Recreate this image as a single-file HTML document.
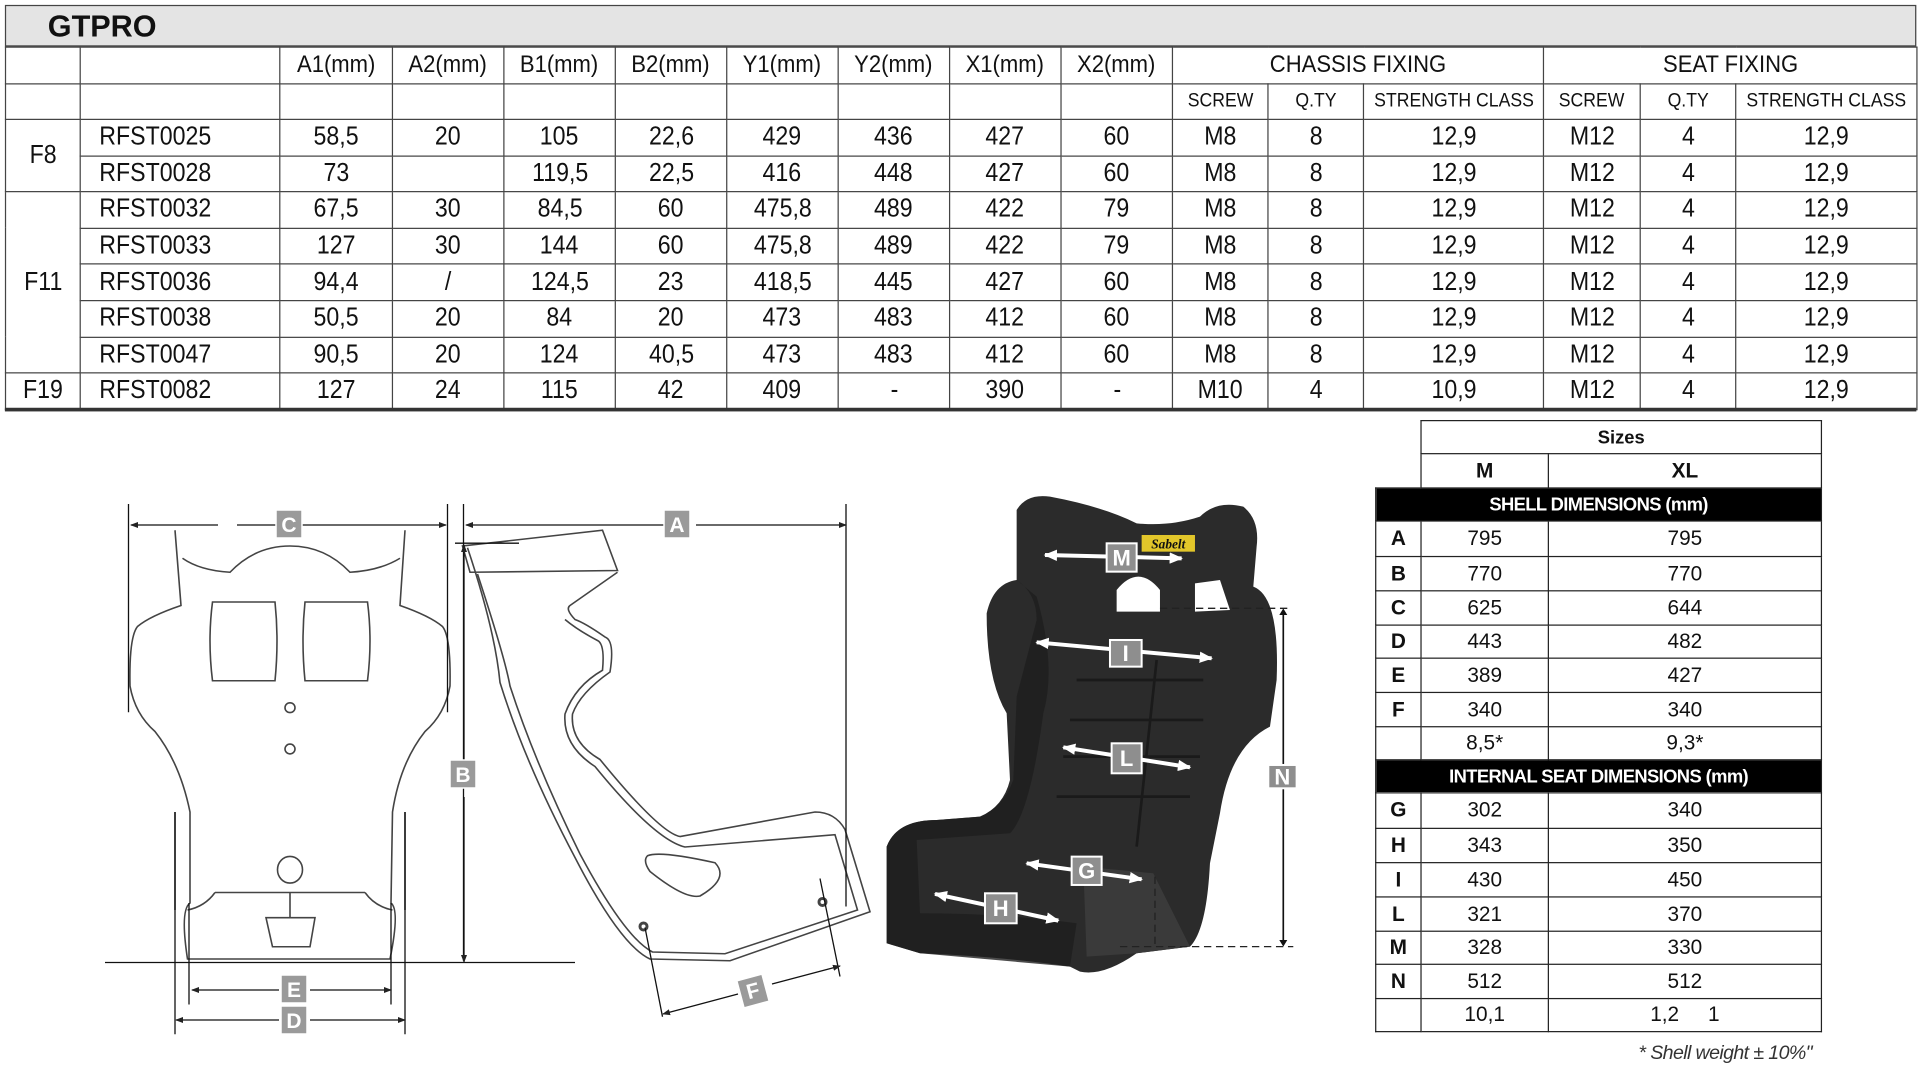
<!DOCTYPE html>
<html><head><meta charset="utf-8">
<style>
html,body{margin:0;padding:0;background:#fff;width:1920px;height:1080px;overflow:hidden}
#wrap{position:absolute;left:0;top:0;width:1568px;height:882px;transform:scale(1.22449);transform-origin:0 0;font-family:"Liberation Sans Narrow","Liberation Sans",sans-serif;color:#111}
.t{position:absolute;border-collapse:collapse;table-layout:fixed}
.t td{border:1.4px solid #444;padding:0;text-align:center;white-space:nowrap;overflow:hidden}
.c{display:inline-block;transform:scaleX(.9)}
#top{left:4px;top:38px;width:1561px;font-size:21px}
#top tr{height:29.6px}
#top .h1{height:30px;font-size:20px}
#top .h2{height:29px;font-size:16px}
#top td.l{text-align:left;padding-left:10px}
#title{position:absolute;left:4px;top:4px;width:1561px;height:34px;background:#e4e4e4;border:1.4px solid #444;box-sizing:border-box}
#title span{position:absolute;left:34px;top:3px;font:bold 25px "Liberation Sans Narrow","Liberation Sans",sans-serif}
#botline{position:absolute;left:4px;top:333px;width:1561px;height:3px;background:#333}
#sz{left:1123px;top:343px;width:364px;font-family:"Liberation Sans",sans-serif;font-size:17px}
#sz td{border:1.3px solid #222}
#sz .b{font-weight:bold}
#sz .blk{background:#000;color:#fff;font-weight:bold;font-size:15px;letter-spacing:-.5px}
#sz td.n{border:none}
#note{position:absolute;left:1338px;top:852px;font:italic 16px "Liberation Sans",sans-serif;color:#333;letter-spacing:-.5px}
svg{position:absolute;left:0;top:0}
</style></head><body>
<div id="wrap">
<div id="title"><span>GTPRO</span></div>
<table class="t" id="top">
<colgroup><col style="width:61px"><col style="width:163px"><col style="width:92px"><col style="width:91px"><col style="width:91px"><col style="width:91px"><col style="width:91px"><col style="width:91px"><col style="width:91px"><col style="width:91px"><col style="width:78px"><col style="width:78px"><col style="width:147px"><col style="width:79px"><col style="width:78px"><col style="width:148px"></colgroup>
<tr class="h1"><td></td><td></td><td><span class="c">A1(mm)</span></td><td><span class="c">A2(mm)</span></td><td><span class="c">B1(mm)</span></td><td><span class="c">B2(mm)</span></td><td><span class="c">Y1(mm)</span></td><td><span class="c">Y2(mm)</span></td><td><span class="c">X1(mm)</span></td><td><span class="c">X2(mm)</span></td><td colspan="3"><span class="c">CHASSIS FIXING</span></td><td colspan="3"><span class="c">SEAT FIXING</span></td></tr>
<tr class="h2"><td></td><td></td><td></td><td></td><td></td><td></td><td></td><td></td><td></td><td></td><td><span class="c">SCREW</span></td><td><span class="c">Q.TY</span></td><td><span class="c">STRENGTH CLASS</span></td><td><span class="c">SCREW</span></td><td><span class="c">Q.TY</span></td><td><span class="c">STRENGTH CLASS</span></td></tr>
<tr><td rowspan="2"><span class="c">F8</span></td><td class="l"><span class="c">RFST0025</span></td><td><span class="c">58,5</span></td><td><span class="c">20</span></td><td><span class="c">105</span></td><td><span class="c">22,6</span></td><td><span class="c">429</span></td><td><span class="c">436</span></td><td><span class="c">427</span></td><td><span class="c">60</span></td><td><span class="c">M8</span></td><td><span class="c">8</span></td><td><span class="c">12,9</span></td><td><span class="c">M12</span></td><td><span class="c">4</span></td><td><span class="c">12,9</span></td></tr>
<tr><td class="l"><span class="c">RFST0028</span></td><td><span class="c">73</span></td><td></td><td><span class="c">119,5</span></td><td><span class="c">22,5</span></td><td><span class="c">416</span></td><td><span class="c">448</span></td><td><span class="c">427</span></td><td><span class="c">60</span></td><td><span class="c">M8</span></td><td><span class="c">8</span></td><td><span class="c">12,9</span></td><td><span class="c">M12</span></td><td><span class="c">4</span></td><td><span class="c">12,9</span></td></tr>
<tr><td rowspan="5"><span class="c">F11</span></td><td class="l"><span class="c">RFST0032</span></td><td><span class="c">67,5</span></td><td><span class="c">30</span></td><td><span class="c">84,5</span></td><td><span class="c">60</span></td><td><span class="c">475,8</span></td><td><span class="c">489</span></td><td><span class="c">422</span></td><td><span class="c">79</span></td><td><span class="c">M8</span></td><td><span class="c">8</span></td><td><span class="c">12,9</span></td><td><span class="c">M12</span></td><td><span class="c">4</span></td><td><span class="c">12,9</span></td></tr>
<tr><td class="l"><span class="c">RFST0033</span></td><td><span class="c">127</span></td><td><span class="c">30</span></td><td><span class="c">144</span></td><td><span class="c">60</span></td><td><span class="c">475,8</span></td><td><span class="c">489</span></td><td><span class="c">422</span></td><td><span class="c">79</span></td><td><span class="c">M8</span></td><td><span class="c">8</span></td><td><span class="c">12,9</span></td><td><span class="c">M12</span></td><td><span class="c">4</span></td><td><span class="c">12,9</span></td></tr>
<tr><td class="l"><span class="c">RFST0036</span></td><td><span class="c">94,4</span></td><td><span class="c">/</span></td><td><span class="c">124,5</span></td><td><span class="c">23</span></td><td><span class="c">418,5</span></td><td><span class="c">445</span></td><td><span class="c">427</span></td><td><span class="c">60</span></td><td><span class="c">M8</span></td><td><span class="c">8</span></td><td><span class="c">12,9</span></td><td><span class="c">M12</span></td><td><span class="c">4</span></td><td><span class="c">12,9</span></td></tr>
<tr><td class="l"><span class="c">RFST0038</span></td><td><span class="c">50,5</span></td><td><span class="c">20</span></td><td><span class="c">84</span></td><td><span class="c">20</span></td><td><span class="c">473</span></td><td><span class="c">483</span></td><td><span class="c">412</span></td><td><span class="c">60</span></td><td><span class="c">M8</span></td><td><span class="c">8</span></td><td><span class="c">12,9</span></td><td><span class="c">M12</span></td><td><span class="c">4</span></td><td><span class="c">12,9</span></td></tr>
<tr><td class="l"><span class="c">RFST0047</span></td><td><span class="c">90,5</span></td><td><span class="c">20</span></td><td><span class="c">124</span></td><td><span class="c">40,5</span></td><td><span class="c">473</span></td><td><span class="c">483</span></td><td><span class="c">412</span></td><td><span class="c">60</span></td><td><span class="c">M8</span></td><td><span class="c">8</span></td><td><span class="c">12,9</span></td><td><span class="c">M12</span></td><td><span class="c">4</span></td><td><span class="c">12,9</span></td></tr>
<tr><td><span class="c">F19</span></td><td class="l"><span class="c">RFST0082</span></td><td><span class="c">127</span></td><td><span class="c">24</span></td><td><span class="c">115</span></td><td><span class="c">42</span></td><td><span class="c">409</span></td><td><span class="c">-</span></td><td><span class="c">390</span></td><td><span class="c">-</span></td><td><span class="c">M10</span></td><td><span class="c">4</span></td><td><span class="c">10,9</span></td><td><span class="c">M12</span></td><td><span class="c">4</span></td><td><span class="c">12,9</span></td></tr>
</table>
<div id="botline"></div>

<table class="t" id="sz">
<colgroup><col style="width:37px"><col style="width:104px"><col style="width:223px"></colgroup>
<tr style="height:27px"><td class="n"></td><td colspan="2" class="b" style="font-size:15px">Sizes</td></tr>
<tr style="height:28px"><td class="n"></td><td class="b">M</td><td class="b">XL</td></tr>
<tr style="height:27px"><td colspan="3" class="blk">SHELL DIMENSIONS (mm)</td></tr>
<tr style="height:29px"><td class="b">A</td><td>795</td><td>795</td></tr>
<tr style="height:28px"><td class="b">B</td><td>770</td><td>770</td></tr>
<tr style="height:28px"><td class="b">C</td><td>625</td><td>644</td></tr>
<tr style="height:27px"><td class="b">D</td><td>443</td><td>482</td></tr>
<tr style="height:28px"><td class="b">E</td><td>389</td><td>427</td></tr>
<tr style="height:28px"><td class="b">F</td><td>340</td><td>340</td></tr>
<tr style="height:27px"><td></td><td>8,5*</td><td>9,3*</td></tr>
<tr style="height:27px"><td colspan="3" class="blk">INTERNAL SEAT DIMENSIONS (mm)</td></tr>
<tr style="height:29px"><td class="b">G</td><td>302</td><td>340</td></tr>
<tr style="height:28px"><td class="b">H</td><td>343</td><td>350</td></tr>
<tr style="height:28px"><td class="b">I</td><td>430</td><td>450</td></tr>
<tr style="height:28px"><td class="b">L</td><td>321</td><td>370</td></tr>
<tr style="height:27px"><td class="b">M</td><td>328</td><td>330</td></tr>
<tr style="height:28px"><td class="b">N</td><td>512</td><td>512</td></tr>
<tr style="height:27px"><td></td><td>10,1</td><td>1,2 &nbsp;&nbsp;&nbsp;&nbsp;1</td></tr>
</table>
<div id="note">* Shell weight ± 10%"</div>
</div>

<svg width="1920" height="1080" viewBox="0 0 1920 1080">
<defs>
<marker id="ah" markerWidth="8" markerHeight="8" refX="7" refY="4" orient="auto-start-reverse" markerUnits="userSpaceOnUse"><path d="M0,1 L8,4 L0,7 Z" fill="#222"/></marker>
<marker id="aw" markerWidth="40" markerHeight="34" refX="36" refY="17" orient="auto-start-reverse" markerUnits="userSpaceOnUse"><path d="M0,0 L40,17 L0,34 Z" fill="#fff"/></marker>
</defs>
<g transform="translate(100,490) scale(0.5,0.35)" fill="none" stroke="#444" stroke-width="1.6">
<path vector-effect="non-scaling-stroke" d="M150,115 L162,330 Q100,360 75,390 Q58,420 60,560 Q70,640 110,690 Q160,780 180,920 L180,1180 Q160,1200 175,1340 L580,1340 Q600,1200 582,1180 L585,920 Q600,780 650,690 Q690,640 700,560 Q702,420 685,390 Q660,360 600,330 L610,115"/>
<path vector-effect="non-scaling-stroke" d="M165,195 Q200,230 260,235 Q310,160 380,160 Q450,160 500,235 Q560,230 600,195"/>
<path vector-effect="non-scaling-stroke" d="M225,320 L350,320 Q358,430 350,545 L225,545 Q215,430 225,320 Z"/>
<path vector-effect="non-scaling-stroke" d="M410,320 L535,320 Q545,430 535,545 L410,545 Q402,430 410,320 Z"/>
<path vector-effect="non-scaling-stroke" d="M150,920 L150,1200 M610,920 L610,1200 M230,1150 L530,1150 M230,1150 Q210,1190 175,1200 M530,1150 Q550,1190 585,1200 M380,1150 L380,1220"/>
<path vector-effect="non-scaling-stroke" d="M332,1222 L430,1222 L420,1305 L345,1305 Z"/>
<ellipse vector-effect="non-scaling-stroke" cx="380" cy="622" rx="10" ry="14"/>
<ellipse vector-effect="non-scaling-stroke" cx="380" cy="740" rx="10" ry="14"/>
<ellipse vector-effect="non-scaling-stroke" cx="380" cy="1085" rx="25" ry="38"/>
<path vector-effect="non-scaling-stroke" d="M725,160 L740,235 L1035,230 L1005,115 Z"/>
<path vector-effect="non-scaling-stroke" d="M735,165 Q790,400 800,550 Q850,780 950,1050 Q1040,1300 1100,1340 L1260,1345 L1540,1205 L1490,970 Q1470,920 1430,920 L1160,990 Q1120,980 1000,770 Q940,720 945,640 Q960,580 1020,520 Q1030,430 1010,420 Q970,380 950,370 Q930,340 940,330 L1035,235"/>
<path vector-effect="non-scaling-stroke" d="M755,240 Q810,480 820,560 Q870,780 960,1040 Q1050,1280 1105,1320 L1250,1325 L1515,1200 L1470,985 L1170,1020 Q1110,1000 990,790 Q925,730 930,640 Q950,560 1005,515 Q1010,440 995,430 Q955,400 930,370"/>
<path vector-effect="non-scaling-stroke" d="M1095,1045 Q1120,1030 1230,1065 Q1260,1110 1200,1160 Q1170,1170 1100,1090 Q1085,1060 1095,1045 Z"/>
<ellipse vector-effect="non-scaling-stroke" cx="1087" cy="1247" rx="7" ry="10" stroke-width="3"/>
<ellipse vector-effect="non-scaling-stroke" cx="1445" cy="1177" rx="7" ry="10" stroke-width="3"/>
<g stroke="#111" stroke-width="1.3">
<path vector-effect="non-scaling-stroke" d="M57,40 L57,635 M695,40 L695,635 M727,40 L727,1345 M1492,40 L1492,1190 M10,1350 L950,1350 M150,920 L150,1555 M610,920 L610,1555 M178,1180 L178,1470 M582,1180 L582,1470 M710,152 L838,152 M1090,1250 L1125,1505 M1440,1110 L1480,1390"/>
</g>
</g>
<g stroke="#111" stroke-width="1.3" fill="none">
<line x1="131" y1="525" x2="218" y2="525" marker-start="url(#ah)"/><line x1="237" y1="525" x2="446" y2="525" marker-end="url(#ah)"/>
<line x1="466" y1="525" x2="666" y2="525" marker-start="url(#ah)"/><line x1="696" y1="525" x2="846" y2="525" marker-end="url(#ah)"/>
<line x1="464" y1="545" x2="464" y2="772" marker-start="url(#ah)"/><line x1="464" y1="797" x2="464" y2="962" marker-end="url(#ah)"/>
<line x1="192" y1="990" x2="279" y2="990" marker-start="url(#ah)"/><line x1="310" y1="990" x2="391" y2="990" marker-end="url(#ah)"/>
<line x1="176" y1="1020" x2="279" y2="1020" marker-start="url(#ah)"/><line x1="310" y1="1020" x2="405" y2="1020" marker-end="url(#ah)"/>
<line x1="663" y1="1014" x2="738" y2="994" marker-start="url(#ah)"/><line x1="772" y1="984" x2="840" y2="966" marker-end="url(#ah)"/>
</g>
<g fill="#9a9a9a" stroke="#fff" stroke-width="1.5">
<rect x="276" y="510" width="26" height="28"/>
<rect x="664" y="510" width="26" height="28"/>
<rect x="450" y="760" width="26" height="28"/>
<rect x="281" y="975" width="26" height="28"/>
<rect x="281" y="1006" width="26" height="28"/>
<rect x="740" y="977" width="26" height="28" transform="rotate(-15 753 991)"/>
</g>
<g fill="#fff" font-family="Liberation Sans Narrow,Liberation Sans,sans-serif" font-weight="bold" font-size="21" text-anchor="middle">
<text x="289" y="532">C</text><text x="677" y="532">A</text><text x="463" y="782">B</text><text x="294" y="997">E</text><text x="294" y="1028">D</text><text x="753" y="998" transform="rotate(-15 753 991)">F</text>
</g>

<g transform="translate(870,480) scale(0.3333)">
<path d="M440,90 Q470,40 540,50 Q700,80 800,130 Q900,140 990,110 Q1040,60 1120,80 Q1170,120 1160,200 L1150,320 Q1230,350 1220,600 L1200,740 Q1080,800 1050,1000 L1020,1150 Q1010,1350 960,1400 L800,1420 Q700,1490 630,1475 L600,1460 Q400,1430 150,1420 L50,1390 L50,1100 Q80,1020 200,1020 L330,1010 Q400,980 420,900 L410,700 Q350,600 350,400 Q370,310 440,300 Z" fill="#2b2b2b"/>
<path d="M740,395 L740,330 Q805,250 870,330 L870,395 Z" fill="#fff"/>
<path d="M975,395 L975,310 L1050,300 L1080,390 Z" fill="#fff"/>
<path d="M440,300 Q500,340 500,420 L440,650 L430,900 Q400,980 330,1010 L200,1020 Q80,1020 50,1100 L50,1390 L150,1420 L600,1460 L620,1330 Q400,1300 150,1300 L140,1080 L420,1060 Q480,1000 520,700 Q560,560 500,350 Z" fill="#1e1e1e" opacity=".8"/>
<path d="M640,1160 L850,1180 L960,1400 L800,1420 L650,1430 Z" fill="#3a3a3a"/>
<path d="M620,600 L1000,600 M600,720 L1000,720 M580,830 L990,830 M560,950 L960,950 M860,540 L800,1100" stroke="#1a1a1a" stroke-width="8" fill="none"/>
<rect x="815" y="165" width="160" height="50" fill="#e2c62a"/>
<text x="895" y="205" font-family="Liberation Serif,serif" font-style="italic" font-weight="bold" font-size="40" text-anchor="middle" fill="#111">Sabelt</text>
<g stroke="#222" stroke-width="4" stroke-dasharray="22,14" fill="none">
<path d="M870,385 L1265,385 M750,1400 L1270,1400 M855,1190 L855,1400"/>
</g>
<line x1="1240" y1="395" x2="1240" y2="1390" stroke="#111" stroke-width="5"/>
<path d="M1228,405 L1240,385 L1252,405 Z M1228,1380 L1240,1400 L1252,1380 Z" fill="#111"/>
<g stroke="#fff" stroke-width="12" fill="none">
<line x1="525" y1="225" x2="935" y2="235" marker-start="url(#aw)" marker-end="url(#aw)"/>
<line x1="500" y1="487" x2="1025" y2="535" marker-start="url(#aw)" marker-end="url(#aw)"/>
<line x1="580" y1="802" x2="960" y2="862" marker-start="url(#aw)" marker-end="url(#aw)"/>
<line x1="470" y1="1150" x2="815" y2="1198" marker-start="url(#aw)" marker-end="url(#aw)"/>
<line x1="195" y1="1242" x2="565" y2="1322" marker-start="url(#aw)" marker-end="url(#aw)"/>
</g>
<g fill="#8e8e8e" stroke="#fff" stroke-width="6">
<rect x="710" y="190" width="90" height="85"/>
<rect x="720" y="480" width="95" height="80"/>
<rect x="725" y="790" width="90" height="90"/>
<rect x="605" y="1130" width="90" height="85"/>
<rect x="345" y="1240" width="95" height="90"/>
<rect x="1195" y="855" width="85" height="70"/>
</g>
<g fill="#fff" font-family="Liberation Sans Narrow,Liberation Sans,sans-serif" font-weight="bold" font-size="66" text-anchor="middle">
<text x="755" y="256">M</text><text x="767" y="543">I</text><text x="770" y="858">L</text><text x="650" y="1195">G</text><text x="392" y="1308">H</text><text x="1237" y="914">N</text>
</g>
</g>
</svg>
</body></html>
